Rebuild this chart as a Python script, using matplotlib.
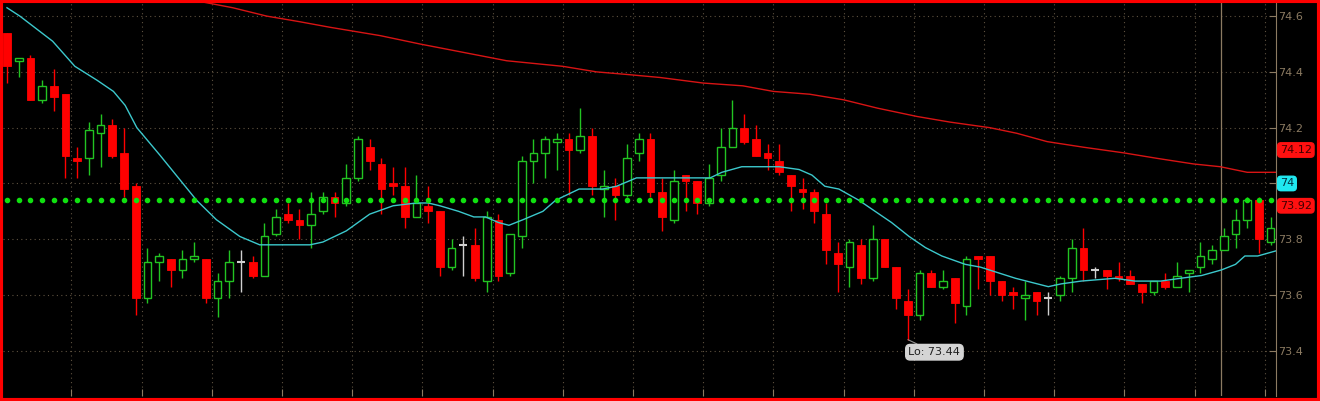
import numpy as np
import matplotlib as mpl
import matplotlib.pyplot as plt
from matplotlib.patches import Rectangle
from matplotlib.transforms import blended_transform_factory

mpl.rc('font', family='DejaVu Sans', size=8)

# candles (one per bar)
opens = [74.54, 74.44, 74.45, 74.30, 74.35, 74.32, 74.09, 74.09, 74.18, 74.21,
         74.11, 73.99, 73.59, 73.72, 73.73, 73.69, 73.73, 73.73, 73.59, 73.65,
         73.72, 73.72, 73.67, 73.82, 73.89, 73.87, 73.85, 73.90, 73.95, 73.93,
         74.02, 74.13, 74.07, 74.00, 73.99, 73.88, 73.92, 73.90, 73.70, 73.78,
         73.78, 73.65, 73.87, 73.68, 73.81, 74.08, 74.11, 74.15, 74.16, 74.12,
         74.17, 73.98, 73.99, 73.96, 74.11, 74.16, 73.97, 73.87, 74.03, 74.01,
         73.93, 74.03, 74.13, 74.20, 74.16, 74.11, 74.08, 74.03, 73.98, 73.97,
         73.89, 73.75, 73.70, 73.78, 73.66, 73.80, 73.70, 73.58, 73.53, 73.68,
         73.63, 73.66, 73.56, 73.74, 73.74, 73.65, 73.61, 73.59, 73.61, 73.59,
         73.60, 73.66, 73.77, 73.69, 73.69, 73.67, 73.67, 73.64, 73.61, 73.65,
         73.63, 73.68, 73.70, 73.73, 73.76, 73.82, 73.87, 73.94, 73.79]
highs = [74.54, 74.45, 74.46, 74.37, 74.41, 74.32, 74.13, 74.22, 74.25, 74.23,
         74.20, 74.00, 73.77, 73.75, 73.73, 73.76, 73.79, 73.73, 73.68, 73.76,
         73.76, 73.74, 73.86, 73.91, 73.93, 73.91, 73.97, 73.97, 73.97, 74.07,
         74.17, 74.16, 74.09, 74.06, 74.06, 74.03, 73.99, 73.90, 73.80, 73.81,
         73.84, 73.90, 73.89, 73.82, 74.10, 74.16, 74.17, 74.18, 74.18, 74.27,
         74.20, 74.05, 74.02, 74.14, 74.18, 74.18, 74.02, 74.05, 74.03, 74.01,
         74.07, 74.20, 74.30, 74.25, 74.21, 74.14, 74.14, 74.03, 74.02, 73.98,
         73.93, 73.79, 73.80, 73.80, 73.85, 73.80, 73.70, 73.62, 73.69, 73.69,
         73.69, 73.66, 73.74, 73.74, 73.74, 73.65, 73.63, 73.65, 73.61, 73.61,
         73.67, 73.80, 73.84, 73.70, 73.69, 73.72, 73.69, 73.64, 73.65, 73.68,
         73.72, 73.69, 73.79, 73.78, 73.84, 73.91, 73.95, 73.95, 73.88]
lows = [74.36, 74.38, 74.30, 74.29, 74.26, 74.02, 74.02, 74.03, 74.06, 74.09,
        73.95, 73.53, 73.57, 73.65, 73.63, 73.66, 73.72, 73.57, 73.52, 73.59,
        73.61, 73.66, 73.67, 73.81, 73.86, 73.80, 73.77, 73.89, 73.88, 73.92,
        74.01, 74.05, 73.89, 73.96, 73.84, 73.88, 73.86, 73.67, 73.69, 73.67,
        73.65, 73.61, 73.65, 73.67, 73.77, 74.00, 74.02, 74.05, 73.96, 74.11,
        73.96, 73.88, 73.87, 73.95, 74.08, 73.95, 73.83, 73.86, 73.90, 73.89,
        73.92, 74.01, 74.13, 74.14, 74.10, 74.05, 74.03, 73.90, 73.91, 73.86,
        73.71, 73.61, 73.63, 73.64, 73.65, 73.70, 73.55, 73.44, 73.51, 73.63,
        73.62, 73.50, 73.53, 73.62, 73.60, 73.58, 73.55, 73.51, 73.53, 73.53,
        73.58, 73.61, 73.65, 73.66, 73.62, 73.65, 73.64, 73.57, 73.60, 73.62,
        73.63, 73.61, 73.68, 73.71, 73.76, 73.77, 73.84, 73.75, 73.78]
closes = [74.42, 74.45, 74.30, 74.35, 74.31, 74.10, 74.08, 74.19, 74.21, 74.10,
          73.98, 73.59, 73.72, 73.74, 73.69, 73.73, 73.74, 73.59, 73.65, 73.72,
          73.72, 73.67, 73.81, 73.88, 73.87, 73.85, 73.89, 73.95, 73.93, 74.02,
          74.16, 74.08, 73.98, 73.99, 73.88, 73.93, 73.90, 73.70, 73.77, 73.78,
          73.66, 73.88, 73.67, 73.82, 74.08, 74.11, 74.16, 74.16, 74.12, 74.17,
          73.99, 73.99, 73.96, 74.09, 74.16, 73.97, 73.88, 74.01, 74.01, 73.93,
          74.02, 74.13, 74.20, 74.15, 74.10, 74.09, 74.04, 73.99, 73.97, 73.90,
          73.76, 73.71, 73.79, 73.66, 73.80, 73.70, 73.59, 73.53, 73.68, 73.63,
          73.65, 73.57, 73.73, 73.73, 73.65, 73.60, 73.60, 73.60, 73.58, 73.59,
          73.66, 73.77, 73.69, 73.69, 73.67, 73.66, 73.64, 73.61, 73.65, 73.63,
          73.67, 73.69, 73.74, 73.76, 73.81, 73.87, 73.94, 73.80, 73.84]

# fast moving average (cyan), bar position -> value
fast_x = [0, 1.1, 3.9, 5.8, 7.7, 9.1, 10.1, 11.1, 13.1, 16.2, 17.9, 19.9, 21.6,
          23.6, 25.9, 27.0, 28.0, 29.0, 31.0, 33.0, 35.0, 36.0, 37.0, 38.6, 39.9,
          40.9, 42.0, 42.9, 44.1, 45.8, 46.9, 48.9, 50.9, 52.1, 53.8, 54.5, 56.0,
          57.7, 59.1, 60.1, 61.1, 62.8, 64.8, 66.0, 67.7, 68.8, 69.9, 71.1, 72.8,
          74.2, 75.6, 77.1, 78.5, 79.9, 81.9, 83.2, 86.2, 89.0, 90.1, 91.8, 94.7,
          96.4, 98.6, 100.3, 102.1, 103.8, 105.0, 105.8, 106.9, 108.6]
fast_ma = [74.63, 74.60, 74.51, 74.42, 74.37, 74.33, 74.28, 74.20, 74.10, 73.94,
           73.87, 73.81, 73.78, 73.78, 73.78, 73.79, 73.81, 73.83, 73.89, 73.92,
           73.93, 73.93, 73.92, 73.90, 73.88, 73.88, 73.86, 73.85, 73.87, 73.90,
           73.94, 73.98, 73.98, 73.99, 74.02, 74.02, 74.02, 74.02, 74.02, 74.02,
           74.04, 74.06, 74.06, 74.06, 74.05, 74.03, 73.99, 73.98, 73.94, 73.90,
           73.86, 73.81, 73.77, 73.74, 73.71, 73.70, 73.66, 73.63, 73.64, 73.65,
           73.66, 73.65, 73.65, 73.66, 73.67, 73.69, 73.71, 73.74, 73.74, 73.76]

# slow moving average (red)
slow_x = [14.0, 16.8, 19.3, 22.2, 25.0, 27.6, 31.9, 35.3, 39.0, 42.7, 47.5, 50.4,
          53.2, 55.8, 59.5, 62.9, 65.5, 68.6, 71.5, 74.4, 77.8, 80.6, 84.0, 86.3,
          88.9, 92.0, 95.4, 98.3, 101.4, 103.7, 106.0, 108.6]
slow_ma = [74.68, 74.65, 74.63, 74.60, 74.58, 74.56, 74.53, 74.50, 74.47, 74.44,
           74.42, 74.40, 74.39, 74.38, 74.36, 74.35, 74.33, 74.32, 74.30, 74.27,
           74.24, 74.22, 74.20, 74.18, 74.15, 74.13, 74.11, 74.09, 74.07, 74.06,
           74.04, 74.04]

level = 73.94
marker_bar = 103.8
price_ticks = [73.4, 73.6, 73.8, 74.0, 74.2, 74.4, 74.6]
price_labels = ['73.4', '73.6', '73.8', '', '74.2', '74.4', '74.6']
tag_values = [74.12, 74.0, 73.92]
tag_texts = ['74.12', '74', '73.92']
tag_colors = ['#ff1010', '#20e8f0', '#ff1010']
low_bar, low_text = 77, 'Lo: 73.44'

tan = '#8c7b62'
grid_c = '#5e5240'
green = '#22c422'
red = '#ff0000'

n = len(opens)
x = np.arange(n)
o, h, l, c = map(np.array, (opens, highs, lows, closes))

fig = plt.figure(figsize=(13.2, 4.01), dpi=100, facecolor='black')
ax = fig.add_axes([3 / 1320, 5 / 401, 1273 / 1320, 393 / 401], facecolor='black')

# grid
for gx in np.arange(5.5, n, 6):
    ax.axvline(gx, color=grid_c, lw=0.8, ls=(0, (1, 3)), zorder=0)
for gy in price_ticks:
    ax.axhline(gy, color=grid_c, lw=0.8, ls=(0, (1, 3)), zorder=0)
ax.axvline(marker_bar, color=tan, lw=0.9, zorder=0.5)

# moving averages
ax.plot(slow_x, slow_ma, color='#d81414', lw=1.0, zorder=1)
ax.plot(fast_x, fast_ma, color='#3cc8cc', lw=1.0, zorder=4)

# candles
w = 0.66
up, dn, eq = c > o, c < o, c == o
ax.vlines(x[up], l[up], h[up], color=green, lw=1.0, zorder=2)
ax.vlines(x[dn], l[dn], h[dn], color=red, lw=1.0, zorder=2)
ax.vlines(x[eq], l[eq], h[eq], color='#d0d0d0', lw=1.0, zorder=2)
ax.bar(x[up], c[up] - o[up], bottom=o[up], width=w, facecolor='black',
       edgecolor=green, lw=1.0, zorder=3)
ax.bar(x[dn], o[dn] - c[dn], bottom=c[dn], width=w, facecolor=red,
       edgecolor=red, lw=0.6, zorder=3)
ax.hlines(c[eq], x[eq] - w / 2, x[eq] + w / 2, color='#d0d0d0', lw=1.5, zorder=3)

# level dots
ax.plot(x, np.full(n, level), ls='none', marker='o', ms=3.0, mfc='#10e010',
        mec='#10e010', zorder=5)

# low label
ax.annotate(low_text, xy=(low_bar, lows[low_bar]), xytext=(low_bar + 0.05, lows[low_bar] - 0.045),
            fontsize=8, color='#202020', ha='left', va='center',
            bbox=dict(boxstyle='round,pad=0.25,rounding_size=0.4', fc='#d4d4d4', ec='#d4d4d4'),
            arrowprops=dict(arrowstyle='-', color='#909090', lw=0.8, shrinkA=0, shrinkB=0),
            zorder=6)

ax.set_xlim(-0.34, 108.46)
ax.set_ylim(73.238, 74.647)

ax.set_xticks(np.arange(5.5, n, 6))
ax.tick_params(axis='x', direction='in', length=5, color=tan, labelbottom=False)
ax.yaxis.tick_right()
ax.set_yticks(price_ticks)
ax.set_yticklabels(price_labels)
ax.tick_params(axis='y', direction='in', length=5, color=tan, labelcolor=tan,
               labelsize=8, pad=1.5)
for s in ['left', 'top', 'bottom']:
    ax.spines[s].set_visible(False)
ax.spines['right'].set_color(tan)

# price tags on the scale
tr = blended_transform_factory(ax.transAxes, ax.transData)
for v, t, col in zip(tag_values, tag_texts, tag_colors):
    ax.text(1.003, v, t, transform=tr, ha='left', va='center', fontsize=8,
            color='#400000' if col != '#20e8f0' else '#003040', clip_on=False,
            bbox=dict(boxstyle='round,pad=0.2,rounding_size=0.3', fc=col, ec=col),
            zorder=7)

fig.add_artist(Rectangle((0, 0), 1, 1, transform=fig.transFigure, fill=False,
                         edgecolor='red', lw=4.4, zorder=10))

fig.savefig('out.png', dpi=100, facecolor='black')
